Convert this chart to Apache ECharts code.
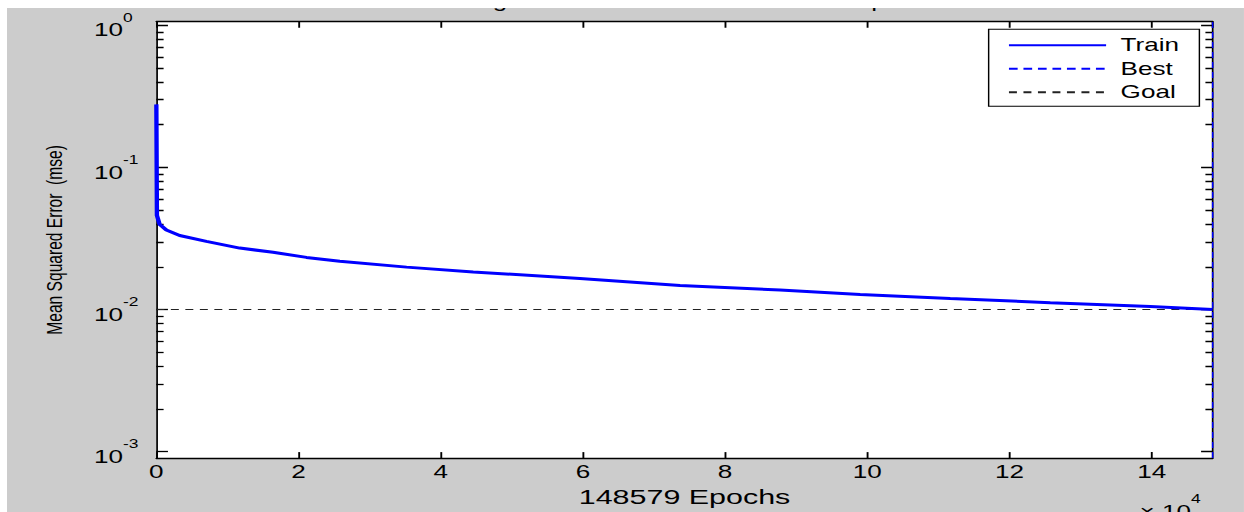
<!DOCTYPE html>
<html>
<head>
<meta charset="utf-8">
<script src="https://cdn.jsdelivr.net/npm/echarts@6/dist/echarts.min.js"></script>
<style>
html, body { margin: 0; padding: 0; background: #fff; width: 1244px; height: 512px; overflow: hidden; }
/* the reference figure is stretched sideways, so the chart is drawn narrow and widened */
#chart { position: absolute; left: 7px; top: 8px; width: 853px; height: 504px; background: #cccccc;
         transform: scaleX(1.45); transform-origin: 0 0; overflow: hidden; }
</style>
</head>
<body>
<div id="chart"></div>
<script>
// training curve
const epochs = [0, 80, 464, 1407, 3279, 7037, 11724, 16412, 21112, 25799, 35187, 44562,
    59579, 73655, 87730, 98990, 111658, 125733, 139808, 148579];
const trainMse = [0.278, 0.046, 0.0398, 0.0363, 0.0332, 0.0302, 0.0271, 0.0253, 0.0233, 0.0219, 0.0199, 0.0184,
    0.01654, 0.01478, 0.01373, 0.01278, 0.01199, 0.01119, 0.0105, 0.0099999];

const bestEpoch = 148579;
const goalMse = 0.01;
const yMin = 0.000902;
const yMax = 1.061;

const xStep = 20000;
const yMajor = [0.001, 0.01, 0.1, 1];
const yMinor = [0.002, 0.003, 0.004, 0.005, 0.006, 0.007, 0.008, 0.009,
    0.02, 0.03, 0.04, 0.05, 0.06, 0.07, 0.08, 0.09,
    0.2, 0.3, 0.4, 0.5, 0.6, 0.7, 0.8, 0.9];

const FONT = 'Liberation Sans, Arial, sans-serif';
const black = '#000';

const powRich = {
    b: { fontSize: 18, lineHeight: 28, verticalAlign: 'bottom', color: black, fontFamily: FONT },
    s: { fontSize: 12, lineHeight: 12, verticalAlign: 'top', color: black, fontFamily: FONT }
};

function yAxisCfg(pos, ticks, len, labels) {
    return {
        type: 'log',
        position: pos,
        min: yMin,
        max: yMax,
        axisLine: { show: labels !== null, lineStyle: { color: black, width: 1.2 } },
        axisTick: { inside: true, length: len, customValues: ticks, lineStyle: { color: black, width: 1.3 } },
        axisLabel: labels ? {
            customValues: ticks,
            align: 'left',
            margin: 43,
            formatter: v => '{b|10}{s|' + Math.round(Math.log10(v)) + '}',
            rich: powRich
        } : { show: false },
        splitLine: { show: false },
        minorTick: { show: false }
    };
}

function xAxisCfg(pos, labels) {
    return {
        type: 'value',
        position: pos,
        min: 0,
        max: bestEpoch,
        interval: xStep,
        axisLine: { show: true, onZero: false, lineStyle: { color: black, width: 1.3 } },
        axisTick: { show: true, inside: true, length: 6, lineStyle: { color: black, width: 1.3 } },
        axisLabel: labels ? {
            margin: 5,
            color: black,
            fontSize: 18,
            fontFamily: FONT,
            showMaxLabel: false,
            formatter: v => String(v / 10000)
        } : { show: false },
        splitLine: { show: false },
        name: labels ? bestEpoch + ' Epochs' : '',
        nameLocation: 'middle',
        nameGap: 25,
        nameTextStyle: { color: black, fontSize: 21, fontFamily: FONT }
    };
}

const chart = echarts.init(document.getElementById('chart'), null, { renderer: 'svg' });

const yLeft = yAxisCfg('left', yMajor, 8, true);
yLeft.name = 'Mean Squared Error  (mse)';
yLeft.nameLocation = 'middle';
yLeft.nameRotate = 90;
yLeft.nameGap = 63;
yLeft.nameTextStyle = { color: black, fontSize: 15.6, fontFamily: FONT };

chart.setOption({
    animation: false,
    backgroundColor: '#cccccc',
    title: {
        text: 'Best Training Performance is 0.0099999 at epoch ' + bestEpoch,
        left: 240,
        top: -16,
        padding: 0,
        textStyle: { color: black, fontSize: 18, fontWeight: 'normal', fontFamily: FONT }
    },
    grid: {
        left: 103, right: 21.5, top: 13.7, bottom: 49.7,
        show: true, backgroundColor: '#fff', borderWidth: 0
    },
    legend: {
        orient: 'vertical',
        left: 677,
        top: 21.3,
        padding: [7, 14, 5, 13],
        itemWidth: 67,
        itemHeight: 14,
        itemGap: 5.5,
        backgroundColor: '#fff',
        borderColor: black,
        borderWidth: 1,
        itemStyle: { opacity: 0 },
        textStyle: { color: black, fontSize: 18, fontFamily: FONT, padding: [0, 0, 0, 5] },
        data: ['Train', 'Best', 'Goal']
    },
    xAxis: [xAxisCfg('bottom', true), xAxisCfg('top', false)],
    yAxis: [
        yLeft,
        yAxisCfg('left', yMinor, 5, null),
        yAxisCfg('right', yMajor, 8, false),
        yAxisCfg('right', yMinor, 5, null)
    ],
    graphic: [{
        type: 'text',
        x: 781,
        y: 484.5,
        style: { text: '{b|\u00d7 10}{s|4}', rich: powRich, fill: black }
    }],
    series: [
        {
            name: 'Goal',
            type: 'line',
            symbol: 'none',
            z: 3,
            color: black,
            lineStyle: { color: '#222', width: 1, type: [5.5, 4.5] },
            data: [[0, goalMse], [bestEpoch, goalMse]]
        },
        {
            name: 'Best',
            type: 'line',
            symbol: 'none',
            z: 4,
            color: '#0000ff',
            lineStyle: { color: '#0000ff', width: 1, type: [6, 4] },
            data: [[bestEpoch, yMin], [bestEpoch, yMax]]
        },
        {
            name: 'Train',
            type: 'line',
            symbol: 'none',
            z: 5,
            clip: false,
            color: '#0000ff',
            lineStyle: { color: '#0000ff', width: 3 },
            data: epochs.map((e, i) => [e, trainMse[i]])
        }
    ]
});
</script>
</body>
</html>
